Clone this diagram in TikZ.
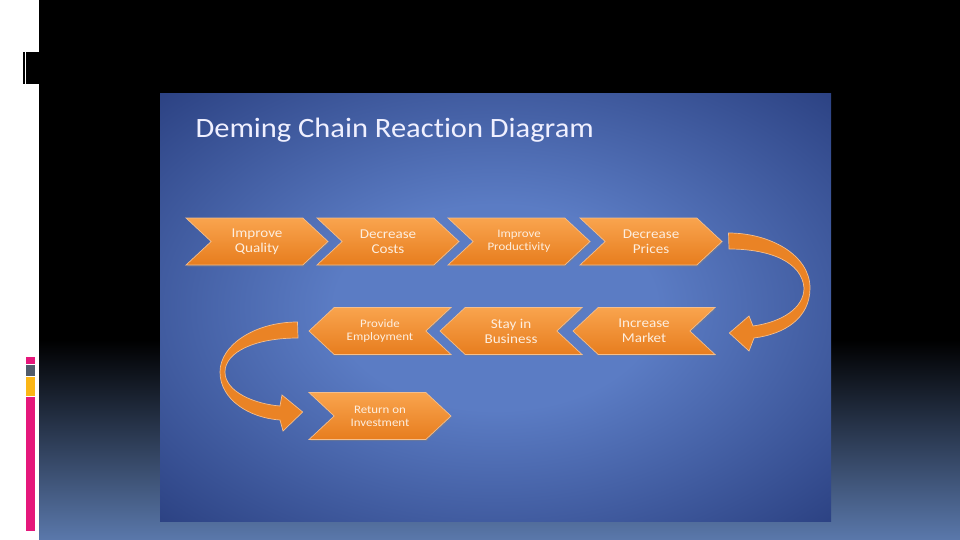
\documentclass[tikz,border=0pt]{standalone}
\usepackage{fontspec}
\setmainfont{Carlito}
\newfontfamily\titlefont[FakeStretch=1.09,Ligatures=NoCommon]{Carlito}
\newfontfamily\chevfont[FakeStretch=1.12,Ligatures=NoCommon]{Carlito}
\usetikzlibrary{shapes.symbols,shadows}
\definecolor{slideLight}{HTML}{5B7CC4}
\definecolor{slideDark}{HTML}{172866}
\definecolor{floorBlue}{HTML}{5A78AB}
\definecolor{chevTop}{HTML}{F9A44E}
\definecolor{chevBot}{HTML}{E77D1E}
\definecolor{chevEdge}{HTML}{F4BE8C}
\definecolor{chevText}{HTML}{FDEEDF}
\definecolor{barPink}{HTML}{E5177B}
\definecolor{barGray}{HTML}{505B6B}
\definecolor{barYellow}{HTML}{FBB616}
\pgfdeclareradialshading{slideglow}{\pgfpoint{0bp}{0bp}}{%
  color(0bp)=(slideLight); color(12bp)=(slideLight);
  color(46bp)=(slideDark); color(60bp)=(slideDark)}
\tikzset{
  chev/.style={
    shape=signal,signal pointer angle=86,
    minimum width=142pt,minimum height=47pt,inner sep=0pt,
    top color=chevTop,bottom color=chevBot,draw=chevEdge,line width=0.7pt,
    drop shadow={shadow xshift=1pt,shadow yshift=-1.5pt,opacity=0.45},
    text=chevText,align=center,font=\chevfont\fontsize{13.5}{15}\selectfont
  },
  fwdchev/.style={chev,signal from=west,signal to=east},
  revchev/.style={chev,signal from=east,signal to=west},
  smalltext/.style={font=\chevfont\fontsize{11.5}{13}\selectfont},
  ribbon/.style={fill=chevBot!85!chevTop,draw=chevEdge,line width=0.7pt}
}

\begin{document}
\begin{tikzpicture}[x=1pt,y=-1pt]
\useasboundingbox (0,0) rectangle (960,540);

% slide frame
\fill[white] (0,0) rectangle (39,540);
\fill[black] (39,0) rectangle (960,340);
\shade[top color=black,bottom color=floorBlue] (39,340) rectangle (960,540);
\fill[black] (23,52) rectangle (25,84);
\fill[black] (26,52) rectangle (39,84);
\fill[barPink] (26,357) rectangle (35,364);
\fill[barGray] (26,365) rectangle (35,376);
\fill[barYellow] (26,377) rectangle (35,396);
\fill[barPink] (26,397) rectangle (35,531);

% picture
\shade[shading=slideglow] (160,94) rectangle (831,521);
\node[anchor=base west,text=white!94!blue,font=\titlefont\fontsize{28}{32}\selectfont]
  (title) at (192,138) {Deming Chain Reaction Diagram};

\node[fwdchev] (quality) at (257,241.5) {Improve\\Quality};
\node[fwdchev] (costs) at (388,241.5) {Decrease\\Costs};
\node[fwdchev,smalltext] (productivity) at (519,241.5) {Improve\\Productivity};
\node[fwdchev] (prices) at (651,241.5) {Decrease\\Prices};

\node[revchev] (market) at (644,331) {Increase\\Market};
\node[revchev] (business) at (511,331) {Stay in\\Business};
\node[revchev,smalltext] (employment) at (380,331) {Provide\\Employment};

\node[fwdchev,smalltext] (investment) at (380,416) {Return on\\Investment};

% turning arrows
\filldraw[ribbon] ([shift={(6,-8.5)}]prices.east)
  .. controls (770,233) and (810,255) .. (810,288)
  .. controls (810,318) and (785,334) .. (754,338)
  -- (749,351) -- ([shift={(39,2)}]market.east) -- (749,316) -- (753,326)
  .. controls (782,322) and (804,308) .. (804,288)
  .. controls (802,262) and (770,249) .. (729,249) -- cycle;

\filldraw[ribbon] ([shift={(-11,-9)}]employment.west)
  .. controls (255,322) and (220,345) .. (220,372)
  .. controls (220,400) and (250,418) .. (280,420)
  -- (283,431) -- ([shift={(-31,-4)}]investment.west) -- (282,395) -- (280,406)
  .. controls (255,404) and (225,392) .. (225,372)
  .. controls (225,352) and (255,338) .. (298,338) -- cycle;

\end{tikzpicture}
\end{document}
